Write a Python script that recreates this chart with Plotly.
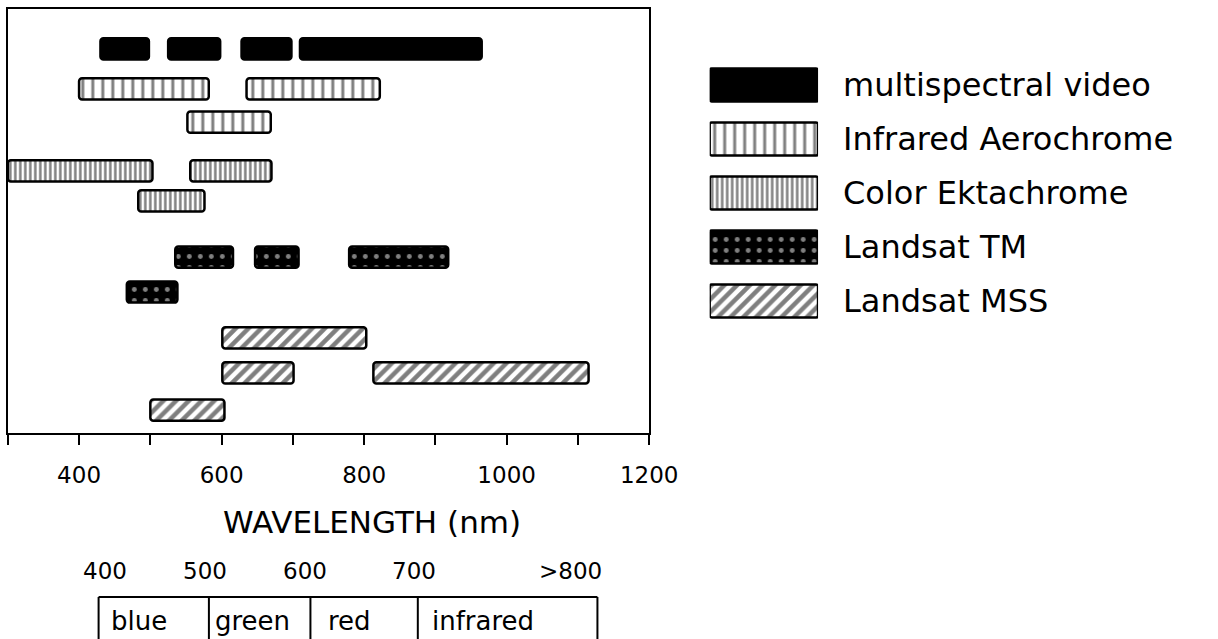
import plotly.graph_objects as go

# ---------------- data ----------------
sensor_names = ["multispectral video", "Infrared Aerochrome", "Color Ektachrome",
                "Landsat TM", "Landsat MSS"]

video_start = [430, 525, 628, 710]
video_end = [498, 598, 698, 965]
video_row = [10.87, 10.87, 10.87, 10.87]

aero_start = [400, 635, 552]
aero_end = [582, 822, 669]
aero_row = [9.74, 9.74, 8.80]

ekta_start = [300, 556, 483]
ekta_end = [503, 670, 576]
ekta_row = [7.42, 7.42, 6.57]

tm_start = [535, 647, 779, 467]
tm_end = [616, 708, 918, 538]
tm_row = [4.98, 4.98, 4.98, 3.99]

mss_start = [601, 601, 813, 500]
mss_end = [803, 701, 1115, 604]
mss_row = [2.69, 1.70, 1.70, 0.65]

x_tickvals = [300, 400, 500, 600, 700, 800, 900, 1000, 1100, 1200]
x_ticktext = ["", "400", "", "600", "", "800", "", "1000", "", "1200"]

band_names = ["blue", "green", "red", "infrared"]
band_limits = ["400", "500", "600", "700", ">800"]

# ---------------- layout helpers ----------------
W, H = 1218, 639
FONT = "DejaVu Sans"


def px(x):
    return x / W


def py(y):
    return 1 - y / H


styles = [
    dict(color="black", pattern=dict(shape="")),
    dict(color="white", pattern=dict(shape="|", fgcolor="black", bgcolor="white",
                                     size=10, solidity=0.3)),
    dict(color="white", pattern=dict(shape="|", fgcolor="black", bgcolor="white",
                                     size=5, solidity=0.5)),
    dict(color="black", pattern=dict(shape=".", fgcolor="white", bgcolor="black",
                                     size=11, solidity=0.16)),
    dict(color="white", pattern=dict(shape="/", fgcolor="black", bgcolor="white",
                                     size=9, solidity=0.5)),
]

series = [
    (video_start, video_end, video_row),
    (aero_start, aero_end, aero_row),
    (ekta_start, ekta_end, ekta_row),
    (tm_start, tm_end, tm_row),
    (mss_start, mss_end, mss_row),
]

fig = go.Figure()

for name, (s, e, r), st in zip(sensor_names, series, styles):
    fig.add_trace(go.Bar(
        orientation="h", base=s, x=[b - a for a, b in zip(s, e)], y=r,
        width=0.6, name=name, showlegend=False,
        marker=dict(color=st["color"], pattern=st["pattern"],
                    line=dict(color="black", width=2.5), cornerradius=3),
        xaxis="x", yaxis="y",
    ))

# legend swatches drawn as bars on their own small axes
for i, (name, st) in enumerate(zip(sensor_names, styles)):
    fig.add_trace(go.Bar(
        orientation="h", base=[0], x=[1], y=[i + 1], width=0.61, showlegend=False,
        marker=dict(color=st["color"], pattern=st["pattern"],
                    line=dict(color="black", width=2.5), cornerradius=2),
        xaxis="x2", yaxis="y2",
    ))

annotations = []
for i, name in enumerate(sensor_names):
    annotations.append(dict(
        x=px(862), y=i + 1, xref="paper", yref="y2", text=name, showarrow=False,
        xanchor="left", yanchor="middle", font=dict(family=FONT, size=32, color="black")))

annotations.append(dict(
    x=px(381), y=py(522), xref="paper", yref="paper", text="WAVELENGTH (nm)",
    showarrow=False, xanchor="center", yanchor="middle",
    font=dict(family=FONT, size=31, color="black")))

limit_x = [108, 210, 312, 424, 584]
for t, xx in zip(band_limits, limit_x):
    annotations.append(dict(
        x=px(xx), y=py(571), xref="paper", yref="paper", text=t, showarrow=False,
        xanchor="center", yanchor="middle", font=dict(family=FONT, size=23, color="black")))

band_x = [112, 218, 334, 440]
for t, xx in zip(band_names, band_x):
    annotations.append(dict(
        x=px(xx), y=py(621), xref="paper", yref="paper", text=t, showarrow=False,
        xanchor="left", yanchor="middle", font=dict(family=FONT, size=26, color="black")))

shapes = [dict(type="line", xref="paper", yref="paper", x0=px(101), x1=px(612),
               y0=py(597), y1=py(597), line=dict(color="black", width=2))]
for xx in [101, 214, 318, 428, 612]:
    shapes.append(dict(type="line", xref="paper", yref="paper", x0=px(xx), x1=px(xx),
                       y0=py(597), y1=py(650), line=dict(color="black", width=2)))

fig.update_layout(
    width=W, height=H, margin=dict(l=0, r=0, t=0, b=0),
    paper_bgcolor="white", plot_bgcolor="white", barmode="overlay",
    xaxis=dict(domain=[px(8), px(665)], range=[300, 1200], tickvals=x_tickvals,
               ticktext=x_ticktext, ticks="outside", ticklen=10, tickwidth=2,
               tickcolor="black", showline=True, linecolor="black", linewidth=2,
               mirror=True, showgrid=False, zeroline=False, ticklabelstandoff=10,
               tickfont=dict(family=FONT, size=23, color="black"), anchor="y"),
    yaxis=dict(domain=[py(433), py(9)], range=[0, 12], showticklabels=False,
               ticks="", showline=True, linecolor="black", linewidth=2, mirror=True,
               showgrid=False, zeroline=False, anchor="x"),
    xaxis2=dict(domain=[px(727), px(838)], range=[0, 1], visible=False, anchor="y2"),
    yaxis2=dict(domain=[py(328), py(58)], range=[5.5, 0.5], visible=False, anchor="x2"),
    annotations=annotations, shapes=shapes,
)

fig.write_html("out.html", config={"displayModeBar": False},
               post_script="document.body.style.margin='0';")
